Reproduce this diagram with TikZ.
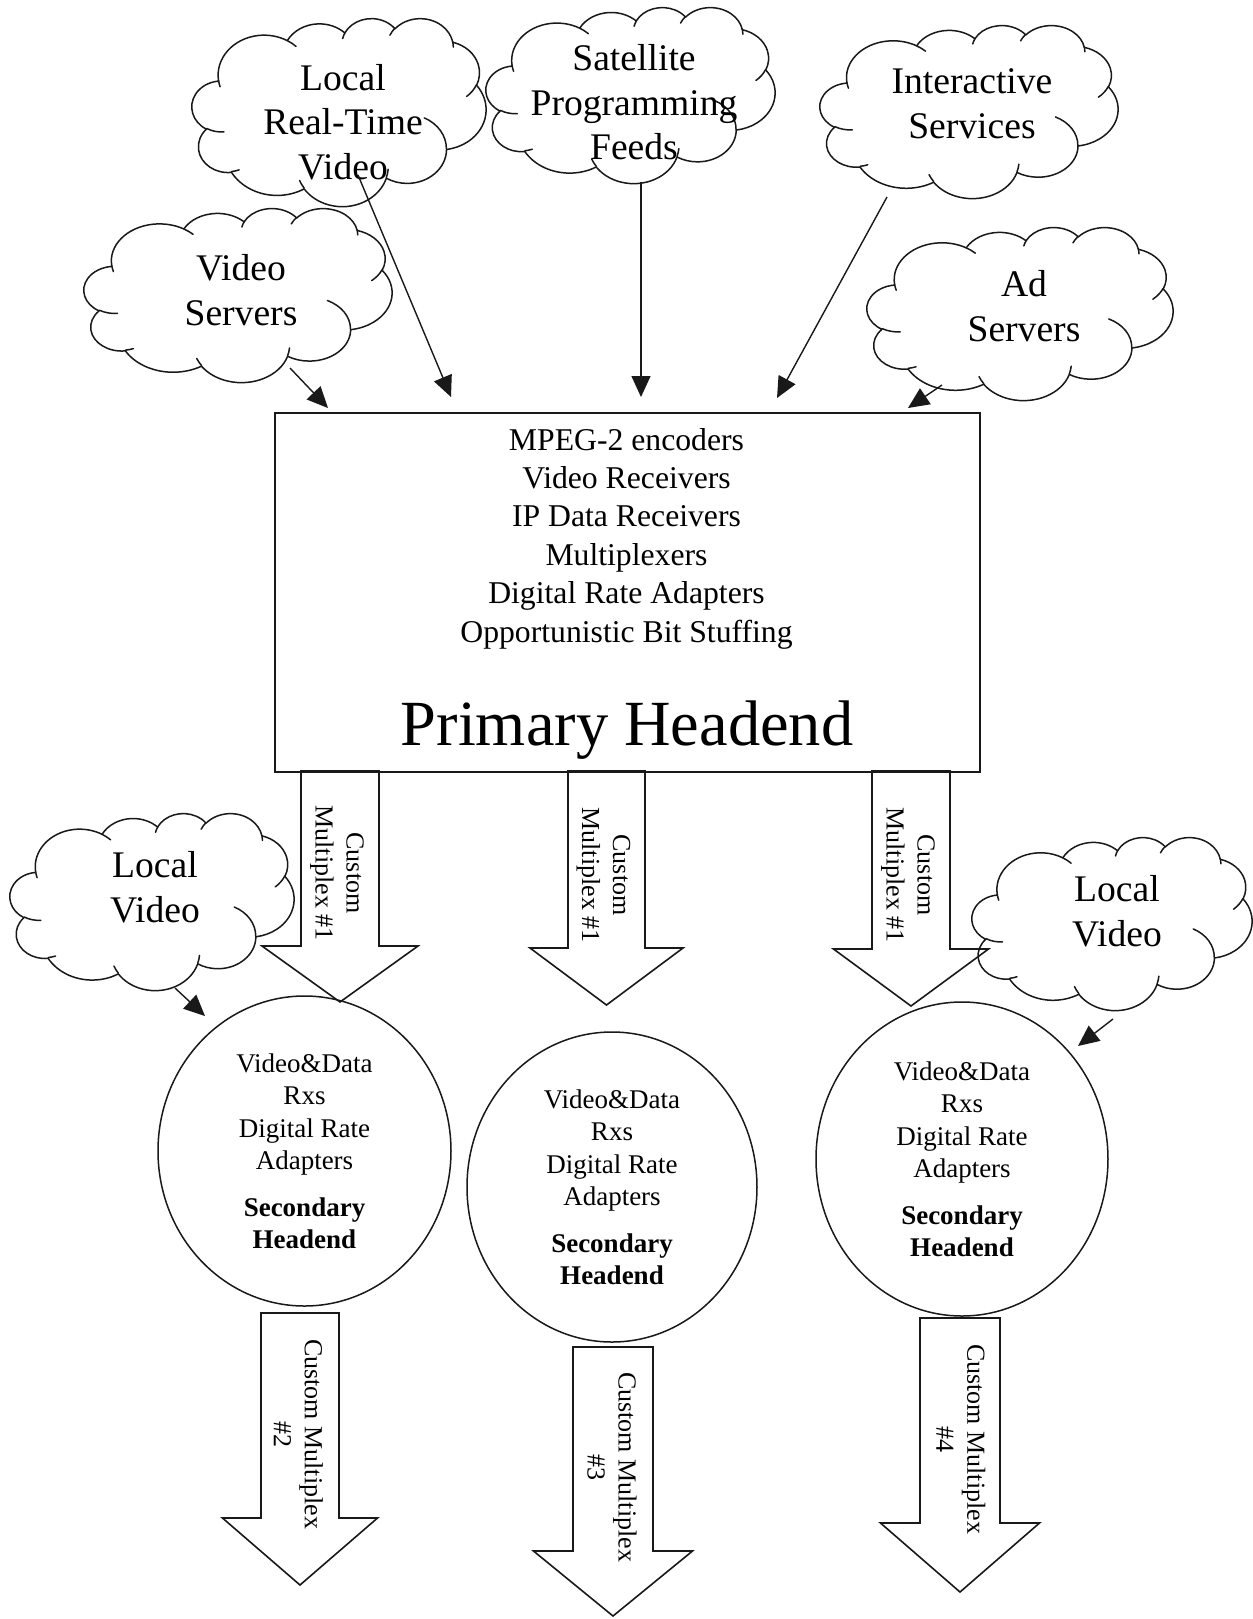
\documentclass[tikz,border=0pt]{standalone}
\usepackage{tikz}
\usepackage{fontspec}
\setmainfont{Liberation Serif}
\usetikzlibrary{arrows.meta,shapes.geometric}

% visual (DrawingML) angle -> parametric angle
\newcommand\cldconv[3]{%
  \pgfmathsetmacro\cldk{round((#1)/180)*180}%
  \pgfmathsetmacro\cldres{\cldk+atan(tan((#1)-(\cldk))*((#2)/(#3)))}}
\newcommand\cldsetup[5]{%
  \cldconv{#2}{#4}{#5}%
  \expandafter\let\csname cldS#1\endcsname\cldres
  \cldconv{(#2)+(#3)}{#4}{#5}%
  \expandafter\let\csname cldE#1\endcsname\cldres}
% outline arcs
\cldsetup{a}{-190.4875}{123.7805}{6.753}{9.19}
\cldsetup{b}{-144.1024}{89.9452}{5.333}{7.267}
\cldsetup{c}{-145.8079}{99.7230}{4.365}{5.945}
\cldsetup{d}{-130.9861}{117.2417}{4.857}{6.595}
\cldsetup{e}{-78.7089}{109.0269}{5.333}{7.273}
\cldsetup{f}{-46.2673}{130.2690}{6.775}{9.22}
\cldsetup{g}{0.6250}{114.0333}{5.785}{7.867}
\cldsetup{h}{22.4516}{115.1726}{6.752}{9.215}
\cldsetup{i}{66.2426}{75.7110}{7.72}{10.543}
\cldsetup{j}{-274.9421}{146.7356}{4.36}{5.918}
\cldsetup{k}{-246.8285}{152.5189}{4.345}{5.945}
% inner strokes
\cldsetup{sa}{86.7420}{26.4295}{4.345}{5.945}
\cldsetup{sb}{73.6105}{11.4475}{4.36}{5.918}
\cldsetup{sc}{137.6242}{14.0811}{6.752}{9.215}
\cldsetup{sd}{6.4533}{15.9984}{6.752}{9.215}
\cldsetup{se}{-70.2924}{70.9174}{5.785}{7.867}
\cldsetup{sf}{30.3180}{27.7515}{5.333}{7.273}
\cldsetup{sg}{-13.7443}{14.8589}{4.857}{6.595}
\cldsetup{sh}{-149.1815}{18.1954}{4.857}{6.595}
\cldsetup{si}{-163.4943}{17.6864}{4.365}{5.945}
\cldsetup{sj}{-66.7070}{12.3194}{6.753}{9.19}
\cldsetup{sk}{157.6544}{11.8582}{6.753}{9.19}

\newcommand\cloudat[4]{%
  \pgfmathsetmacro\cldsx{(#3)*0.5/43.2}%
  \pgfmathsetmacro\cldsy{(#4)*0.5/43.2}%
  \begin{scope}[shift={({(#1)*0.5pt},{-(#2)*0.5pt})}, x=\cldsx pt, y=-\cldsy pt]
    \draw[cloudline] (3.9,14.37)
      arc[start angle=\cldSa, end angle=\cldEa, x radius=6.753, y radius=9.19]
      arc[start angle=\cldSb, end angle=\cldEb, x radius=5.333, y radius=7.267]
      arc[start angle=\cldSc, end angle=\cldEc, x radius=4.365, y radius=5.945]
      arc[start angle=\cldSd, end angle=\cldEd, x radius=4.857, y radius=6.595]
      arc[start angle=\cldSe, end angle=\cldEe, x radius=5.333, y radius=7.273]
      arc[start angle=\cldSf, end angle=\cldEf, x radius=6.775, y radius=9.22]
      arc[start angle=\cldSg, end angle=\cldEg, x radius=5.785, y radius=7.867]
      arc[start angle=\cldSh, end angle=\cldEh, x radius=6.752, y radius=9.215]
      arc[start angle=\cldSi, end angle=\cldEi, x radius=7.72, y radius=10.543]
      arc[start angle=\cldSj, end angle=\cldEj, x radius=4.36, y radius=5.918]
      arc[start angle=\cldSk, end angle=\cldEk, x radius=4.345, y radius=5.945]
      -- cycle;
    \draw[cloudline]
      (4.693,26.177) arc[start angle=\cldSsa, end angle=\cldEsa, x radius=4.345, y radius=5.945]
      (6.928,34.899) arc[start angle=\cldSsb, end angle=\cldEsb, x radius=4.36, y radius=5.918]
      (16.478,39.09) arc[start angle=\cldSsc, end angle=\cldEsc, x radius=6.752, y radius=9.215]
      (28.827,34.751) arc[start angle=\cldSsd, end angle=\cldEsd, x radius=6.752, y radius=9.215]
      (34.129,22.954) arc[start angle=\cldSse, end angle=\cldEse, x radius=5.785, y radius=7.867]
      (41.798,15.354) arc[start angle=\cldSsf, end angle=\cldEsf, x radius=5.333, y radius=7.273]
      (38.324,5.426) arc[start angle=\cldSsg, end angle=\cldEsg, x radius=4.857, y radius=6.595]
      (29.078,3.952) arc[start angle=\cldSsh, end angle=\cldEsh, x radius=4.857, y radius=6.595]
      (22.141,4.72) arc[start angle=\cldSsi, end angle=\cldEsi, x radius=4.365, y radius=5.945]
      (14.0,5.192) arc[start angle=\cldSsj, end angle=\cldEsj, x radius=6.753, y radius=9.19]
      (4.127,15.789) arc[start angle=\cldSsk, end angle=\cldEsk, x radius=6.753, y radius=9.19];
  \end{scope}}

% cx, top, wing y, tip y, shaft half width, wing half width
\newcommand\fatarrow[6]{%
  \draw[fatline] ({#1-#5},#2) -- ({#1-#5},#3) -- ({#1-#6},#3) -- (#1,#4)
    -- ({#1+#6},#3) -- ({#1+#5},#3) -- ({#1+#5},#2) -- cycle;}

\begin{document}
\begin{tikzpicture}[x=0.5pt,y=-0.5pt,
  cloudline/.style={draw=black!90, line width=0.75pt, line join=round, line cap=round},
  conn/.style={draw=black!90, line width=0.7pt, -{Triangle[length=10.5pt,width=9.5pt]}},
  fatline/.style={draw=black!90, line width=0.8pt, line join=miter},
  cloudtext/.style={font=\fontsize{18.8}{22.3}\selectfont, align=center, inner sep=0pt},
  fattext/.style={font=\fontsize{13}{15.5}\selectfont, align=center, inner sep=0pt, rotate=-90},
  shead/.style={ellipse, draw=black!90, line width=0.75pt, inner sep=0pt, align=center,
    font=\fontsize{13.5}{16.25}\selectfont}]
\fill[white] (0,0) rectangle (1253,1619);
\useasboundingbox (0,0) rectangle (1253,1619);

% clouds
\cloudat{192}{18}{294}{188}
\node[cloudtext] (lrtv) at (343,122) {Local\\Real-Time\\Video};
\cloudat{486}{7}{289}{176}
\node[cloudtext] (sat) at (634,102.5) {Satellite\\Programming\\Feeds};
\cloudat{820}{25}{298}{173}
\node[cloudtext] (inter) at (972,103.5) {Interactive\\Services};
\cloudat{84}{208}{308}{174}
\node[cloudtext] (vserv) at (241,290) {Video\\Servers};
\cloudat{867}{227}{306}{173}
\node[cloudtext] (adserv) at (1024,306) {Ad\\Servers};
\cloudat{10}{813}{284}{177}
\node[cloudtext] (lvl) at (155,887) {Local\\Video};
\cloudat{972}{837}{280}{173}
\node[cloudtext] (lvr) at (1117,911) {Local\\Video};

% primary headend
\node[draw=black!90, line width=1pt, minimum width=352.5pt, minimum height=179.5pt,
  inner sep=0pt, anchor=north west] (pbox) at (274,412) {};
\node[font=\fontsize{15.85}{19.2}\selectfont, align=center, inner sep=0pt] (plist) at (626.5,538.6)
  {MPEG-2 encoders\\Video Receivers\\IP Data Receivers\\Multiplexers\\Digital Rate Adapters\\Opportunistic Bit Stuffing};
\node[font=\fontsize{32.2}{38}\selectfont, anchor=base, inner sep=0pt] (ptitle) at (627,745) {Primary Headend};

% connector end points
\coordinate (lrtv-o) at (358,175);  \coordinate (in-a) at (451,397);
\coordinate (sat-o) at (641,182);   \coordinate (in-b) at (641,397);
\coordinate (inter-o) at (887,197); \coordinate (in-c) at (777,398);
\coordinate (vserv-o) at (290,368); \coordinate (in-d) at (328,408);
\coordinate (ad-o) at (942,385);    \coordinate (in-e) at (908,408);
\coordinate (lvl-o) at (175,988);   \coordinate (in-f) at (205,1016);
\coordinate (lvr-o) at (1113,1019); \coordinate (in-g) at (1078,1046);

\draw[conn] (lrtv-o) -- (in-a);
\draw[conn] (sat-o) -- (in-b);
\draw[conn] (inter-o) -- (in-c);
\draw[conn] (vserv-o) -- (in-d);
\draw[conn] (ad-o) -- (in-e);
\draw[conn] (lvl-o) -- (in-f);
\draw[conn] (lvr-o) -- (in-g);

% fat arrows from primary headend
\fatarrow{340}{771}{946}{1002}{39}{78}
\node[fattext] (m1a) at (337,873) {Custom\\Multiplex \#1};
\fatarrow{606.5}{771}{948}{1005}{38.5}{76.5}
\node[fattext] (m1b) at (603.5,875) {Custom\\Multiplex \#1};
\fatarrow{911}{771}{949}{1006}{39}{77.5}
\node[fattext] (m1c) at (908,875) {Custom\\Multiplex \#1};

% secondary headends
\node[shead, minimum width=146.5pt, minimum height=155pt] (sh1) at (304.5,1151)
  {Video\&Data\\Rxs\\Digital Rate\\Adapters\\[7pt]\textbf{Secondary}\\\textbf{Headend}};
\node[shead, minimum width=145pt, minimum height=155pt] (sh2) at (612,1187)
  {Video\&Data\\Rxs\\Digital Rate\\Adapters\\[7pt]\textbf{Secondary}\\\textbf{Headend}};
\node[shead, minimum width=146pt, minimum height=157pt] (sh3) at (962,1159)
  {Video\&Data\\Rxs\\Digital Rate\\Adapters\\[7pt]\textbf{Secondary}\\\textbf{Headend}};

% output fat arrows
\fatarrow{300}{1313}{1518}{1585}{39}{77.5}
\node[fattext] (m2) at (298.5,1434) {Custom Multiplex\\\#2};
\fatarrow{613}{1347}{1551}{1616}{40}{79.5}
\node[fattext] (m3) at (612,1467) {Custom Multiplex\\\#3};
\fatarrow{960}{1318}{1523}{1592}{40}{79.5}
\node[fattext] (m4) at (961,1439) {Custom Multiplex\\\#4};
\end{tikzpicture}
\end{document}
